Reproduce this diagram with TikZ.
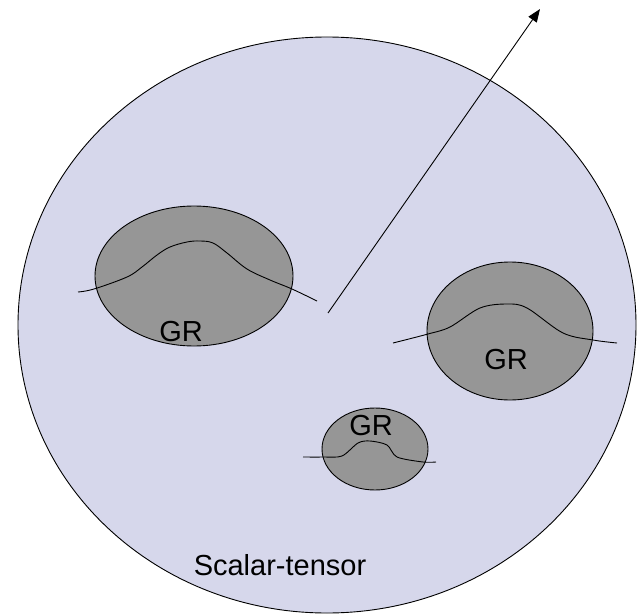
\documentclass[tikz,border=0pt]{standalone}
\usepackage{fontspec}
\setmainfont{Liberation Sans}
\usetikzlibrary{shapes.geometric,arrows.meta}
\definecolor{lav}{RGB}{214,215,235}
\definecolor{blob}{RGB}{150,150,150}
\tikzset{
  region/.style={ellipse,draw=black,line width=0.9pt,inner sep=0pt},
  grblob/.style={region,fill=blob},
  wave/.style={line width=0.9pt},
  lbl/.style={anchor=base,inner sep=0pt,font=\fontsize{29}{34}\selectfont}
}
\begin{document}
\begin{tikzpicture}[x=1pt,y=-1pt]
\useasboundingbox (0,0) rectangle (637,615);
\node[region,fill=lav,minimum width=618pt,minimum height=576pt] (st) at (327,325) {};
\node[grblob,minimum width=198pt,minimum height=140pt] (g1) at (194,276) {};
\node[grblob,minimum width=166pt,minimum height=138pt] (g2) at (510,331) {};
\node[grblob,minimum width=106pt,minimum height=82pt] (g3) at (375,449) {};
\draw[wave] plot[smooth,tension=0.6] coordinates {(78,292) (94,289) (127,277) (142,267) (157,255) (170,247) (187,242) (200,241) (213,243) (227,253) (247,269) (270,280) (292,289) (317,301)};
\draw[wave] plot[smooth,tension=0.55] coordinates {(393,343) (428,334) (450,327) (480,308) (507,304) (527,308) (563,333) (593,340) (617,343)};
\draw[wave] plot[smooth,tension=0.5] coordinates {(303,457) (323,457) (342,456) (358,443) (370,441) (387,445) (397,457) (423,462) (436,462)};
\node[lbl] (t1) at (181,341) {GR};
\node[lbl] (t2) at (506,369) {GR};
\node[lbl] (t3) at (371,435) {GR};
\node[lbl] (ts) at (280,575) {Scalar-tensor};
\coordinate (a0) at (328,313);
\coordinate (a1) at (540,9);
\draw[line width=0.9pt,-{Triangle[length=13pt,width=10pt]}] (a0) -- (a1);
\end{tikzpicture}
\end{document}
